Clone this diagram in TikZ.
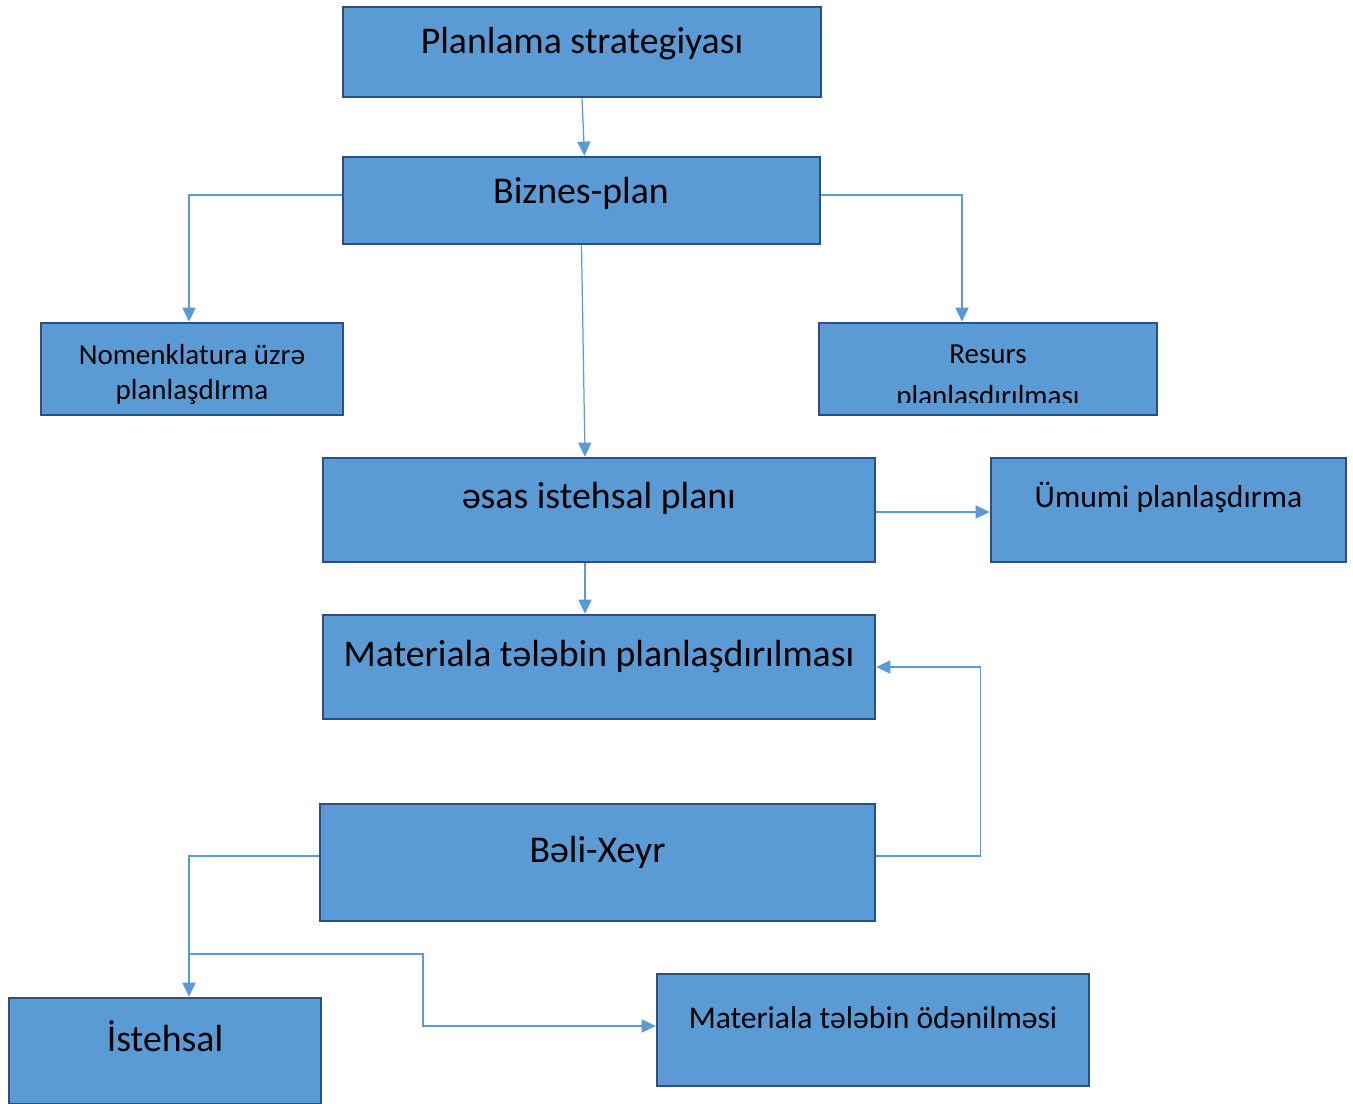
\documentclass[tikz,border=0pt]{standalone}
\usepackage{fontspec}
\setmainfont{Carlito}
\usetikzlibrary{arrows.meta}
\definecolor{PlanFill}{HTML}{5B9BD5}
\definecolor{PlanEdge}{HTML}{2A5082}
\definecolor{PlanLine}{HTML}{5B9BD5}

\begin{document}
\begin{tikzpicture}[x=0.02cm,y=-0.02cm,
  box/.style={rectangle,draw=PlanEdge,fill=PlanFill,line width=1.5pt,inner sep=0pt},
  big/.style={anchor=base,font=\fontsize{21.5}{25}\selectfont},
  mid/.style={anchor=base,font=\fontsize{16.5}{19.5}\selectfont},
  wide/.style={anchor=base,font=\fontsize{18}{21}\selectfont},
  link/.style={draw=PlanLine,line width=0.7pt,-{Triangle[length=8pt,width=7.5pt]}}]
\path[use as bounding box] (0,0) rectangle (1353,1104);
% boxes
\node[box,minimum width=9.56cm,minimum height=1.80cm] (strat) at (582,52) {};
\node[box,minimum width=9.54cm,minimum height=1.74cm] (biz) at (581.5,200.5) {};
\node[box,minimum width=6.04cm,minimum height=1.84cm] (nom) at (192,369) {};
\node[box,minimum width=6.76cm,minimum height=1.84cm] (res) at (988,369) {};
\node[box,minimum width=11.04cm,minimum height=2.08cm] (esas) at (599,510) {};
\node[box,minimum width=7.10cm,minimum height=2.08cm] (umumi) at (1168.5,510) {};
\node[box,minimum width=11.04cm,minimum height=2.08cm] (mat) at (599,667) {};
\node[box,minimum width=11.10cm,minimum height=2.34cm] (beli) at (597.5,862.5) {};
\node[box,minimum width=6.24cm,minimum height=2.12cm] (ist) at (165,1051) {};
\node[box,minimum width=8.64cm,minimum height=2.24cm] (odn) at (873,1030) {};
% texts
\node[big] (strat-t) at (582,54) {Planlama strategiyası};
\node[big] (biz-t) at (581,204) {Biznes-plan};
\node[mid] (nom-a) at (192,365) {Nomenklatura üzrə};
\node[mid] (nom-b) at (192,400) {planlaşdIrma};
\begin{scope}
  \clip (821,325) rectangle (1155,403);
  \node[mid] (res-a) at (988,364) {Resurs};
  \node[mid] (res-b) at (988,406) {planlaşdırılması};
\end{scope}
\node[big] (esas-t) at (599,509) {əsas istehsal planı};
\node[wide] (umumi-t) at (1168.5,508) {Ümumi planlaşdırma};
\node[big] (mat-t) at (599,667) {Materiala tələbin planlaşdırılması};
\node[big] (beli-t) at (597.5,862) {Bəli-Xeyr};
\node[big] (ist-t) at (165,1051) {İstehsal};
\node[wide] (odn-t) at (873,1028) {Materiala tələbin ödənilməsi};
% connectors
\coordinate (split) at (189,954);
\coordinate (bend) at (423,954);
\draw[link] (strat.south) -- ([xshift=0.06cm]biz.north);
\draw[link] ([yshift=0.11cm]biz.west) -| ([xshift=-0.06cm]nom.north);
\draw[link] ([yshift=0.11cm]biz.east) -| ([xshift=-0.52cm]res.north);
\draw[link] (biz.south) -- ([xshift=-0.28cm]esas.north);
\draw[link] ([yshift=-0.04cm]esas.east) -- ([yshift=-0.04cm]umumi.west);
\draw[link] ([xshift=-0.28cm]esas.south) -- ([xshift=-0.28cm]mat.north);
\draw[link] ([yshift=0.13cm]beli.east) -- ++(104,0) |- (mat.east);
\draw[link] ([yshift=0.13cm]beli.west) -| ([xshift=0.48cm]ist.north);
\draw[link] (split) -- (bend) |- ([yshift=0.08cm]odn.west);
\end{tikzpicture}
\end{document}
